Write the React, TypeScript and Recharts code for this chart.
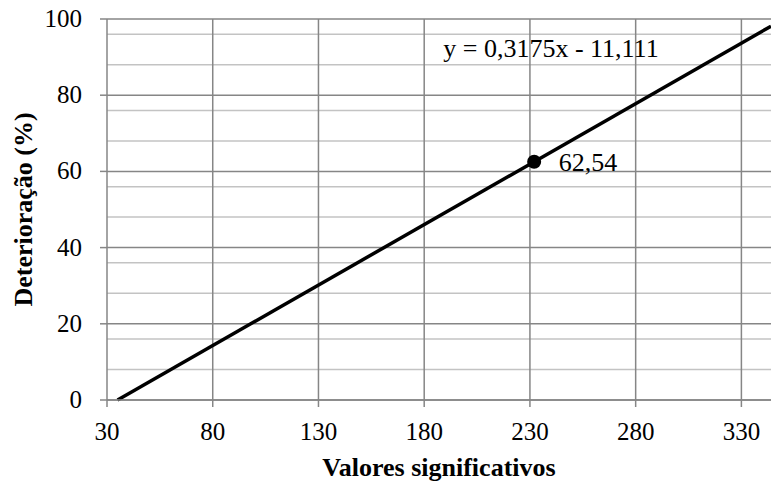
import React from 'react';
import {
    ComposedChart,
    Line,
    Scatter,
    XAxis,
    YAxis,
    CartesianGrid,
    ReferenceDot,
    Label,
    LabelList,
} from 'recharts';

// trend line end points (y = 0,3175x - 11,111)
const trendLine = [
    { x: 35, y: 0 },
    { x: 344, y: 98.11 },
];
const markedPoint = [{ x: 232, y: 62.54, label: '62,54' }];

const xTicks = [30, 80, 130, 180, 230, 280, 330];
const yTicks = [0, 20, 40, 60, 80, 100];
const yMinorTicks = [4, 8, 12, 16, 24, 28, 32, 36, 44, 48, 52, 56, 64, 68, 72, 76, 84, 88, 92, 96];
const equationText = 'y = 0,3175x - 11,111';

const font = "'Liberation Serif', 'Times New Roman', serif";
const axisGray = '#868686';
const minorGray = '#c3c3c3';

const XTick = (props: any) => {
    const { x, y, payload } = props;
    return (
        <text x={x} y={y + 31} textAnchor="middle" fontFamily={font} fontSize={25} fill="#000">
            {payload.value}
        </text>
    );
};

const YTick = (props: any) => {
    const { x, y, payload } = props;
    return (
        <text x={x - 16} y={y + 8} textAnchor="end" fontFamily={font} fontSize={25} fill="#000">
            {payload.value}
        </text>
    );
};

const Dot = (props: any) => <circle cx={props.cx} cy={props.cy} r={7} fill="#000" />;

const App: React.FC = () => (
    <div style={{ position: 'absolute', left: 0, top: 0, width: 771, height: 485, background: '#fff' }}>
        <ComposedChart width={771} height={485} margin={{ top: 19, right: 0, bottom: 0, left: 50 }}>
            <CartesianGrid horizontalValues={yMinorTicks} vertical={false} stroke={minorGray} strokeWidth={1.5} />
            <CartesianGrid horizontalValues={yTicks} verticalValues={xTicks.slice(1)} stroke={axisGray} strokeWidth={1.5} />
            <XAxis
                type="number"
                dataKey="x"
                domain={[30, 344]}
                ticks={xTicks}
                allowDataOverflow
                height={85}
                tick={<XTick />}
                tickSize={7}
                axisLine={{ stroke: axisGray, strokeWidth: 1.5 }}
                tickLine={{ stroke: axisGray, strokeWidth: 1.5 }}
            >
                <Label
                    value="Valores significativos"
                    position="insideBottom"
                    offset={9}
                    fontFamily={font}
                    fontSize={26}
                    fontWeight="bold"
                    fill="#000"
                />
            </XAxis>
            <YAxis
                type="number"
                dataKey="y"
                domain={[0, 100]}
                ticks={yTicks}
                width={57}
                tick={<YTick />}
                tickSize={7}
                axisLine={{ stroke: axisGray, strokeWidth: 1.5 }}
                tickLine={{ stroke: axisGray, strokeWidth: 1.5 }}
            >
                <Label
                    value="Deterioração (%)"
                    angle={-90}
                    position="insideLeft"
                    offset={-27}
                    fontFamily={font}
                    fontSize={26}
                    fontWeight="bold"
                    fill="#000"
                    textAnchor="middle"
                />
            </YAxis>
            <Line
                data={trendLine}
                dataKey="y"
                type="linear"
                stroke="#000"
                strokeWidth={3.5}
                dot={false}
                activeDot={false}
                isAnimationActive={false}
            />
            <Scatter data={markedPoint} dataKey="y" fill="#000" shape={<Dot />} isAnimationActive={false}>
                <LabelList dataKey="label" position="right" offset={20} fontFamily={font} fontSize={26} fill="#000" />
            </Scatter>
            <ReferenceDot x={189} y={92.4} r={0} stroke="none" fill="none">
                <Label value={equationText} position="right" offset={0} fontFamily={font} fontSize={26} fill="#000" />
            </ReferenceDot>
        </ComposedChart>
    </div>
);

export default App;
